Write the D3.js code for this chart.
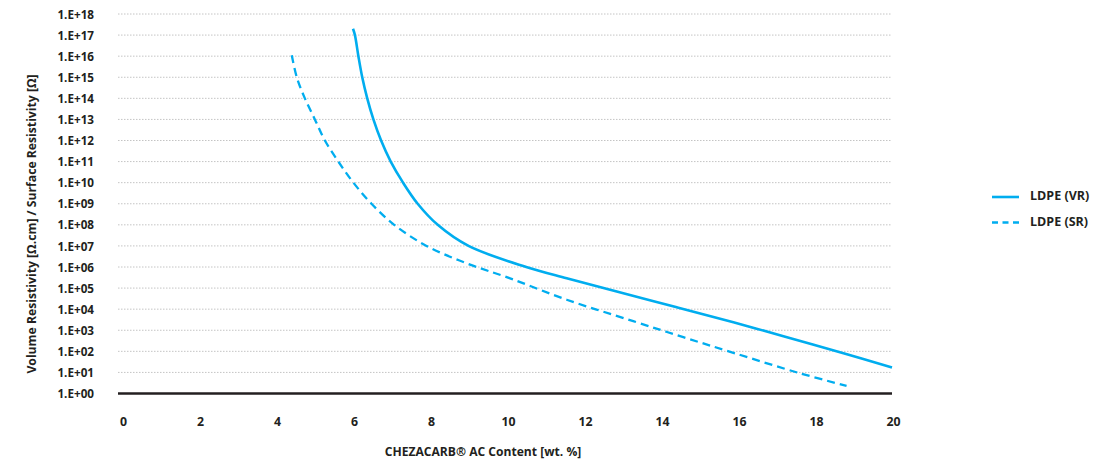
<!DOCTYPE html>
<html>
<head>
<meta charset="utf-8">
<script src="https://cdn.jsdelivr.net/npm/d3@7"></script>
<style>
  html, body { margin: 0; padding: 0; background: #fff; }
  svg { display: block; }
  text { font-family: "Open Sans", Lato, sans-serif; font-weight: 700; fill: #231f20; }
</style>
</head>
<body>
<svg id="chart" width="1113" height="464"></svg>
<script>
// ---- data ----
const xTicks = [0, 2, 4, 6, 8, 10, 12, 14, 16, 18, 20];
const yTicks = [1e0, 1e1, 1e2, 1e3, 1e4, 1e5, 1e6, 1e7, 1e8, 1e9, 1e10, 1e11, 1e12, 1e13, 1e14, 1e15, 1e16, 1e17, 1e18];
const yTickLabels = ["1.E+00","1.E+01","1.E+02","1.E+03","1.E+04","1.E+05","1.E+06","1.E+07","1.E+08","1.E+09","1.E+10","1.E+11","1.E+12","1.E+13","1.E+14","1.E+15","1.E+16","1.E+17","1.E+18"];
const seriesNames = ["LDPE (VR)", "LDPE (SR)"];
const vrContent = [6.0, 6.05, 6.14, 6.24, 6.37, 6.53, 6.73, 6.98, 7.3, 7.68, 8.2, 9.0, 10.5, 11.55, 12.85, 14.41, 15.88, 17.18, 18.74, 20];
const vrResist  = [2e17, 1e17, 1e16, 1e15, 1e14, 1e13, 1e12, 1e11, 1e10, 1e9, 1e8, 1e7, 1e6, 2.9e5, 6.8e4, 1.23e4, 2.4e3, 5.2e2, 81, 17];
const srContent = [4.41, 4.54, 4.75, 5.01, 5.27, 5.62, 6.01, 6.48, 7.07, 7.91, 8.95, 10.08, 11.55, 13.28, 14.58, 15.88, 17.61, 18.82];
const srResist  = [1.1e16, 1e15, 1e14, 1e13, 1e12, 1e11, 1e10, 1e9, 1e8, 1e7, 1.5e6, 2.9e5, 2.8e4, 2.7e3, 4.7e2, 85, 9.1, 2.3];
const xTitle = "CHEZACARB® AC Content [wt. %]";
const yTitle = "Volume Resistivity [Ω.cm] / Surface Resistivity [Ω]";

// ---- layout ----
const svg = d3.select("#chart");
const color = "#00adef";
const ink = "#231f20";
const x = d3.scaleLinear().domain([0, 20]).range([122, 892]);
const y = d3.scaleLog().domain([1, 1e18]).range([393.5, 14]);
const gridLeft = 118;

// gridlines
svg.append("g").selectAll("line")
  .data(yTicks.slice(1))
  .join("line")
  .attr("x1", gridLeft).attr("x2", x(20))
  .attr("y1", d => y(d)).attr("y2", d => y(d))
  .attr("stroke", "#c4c4c4").attr("stroke-width", 1)
  .attr("stroke-dasharray", "1.5,1.5");

// y axis labels
const yAxis = d3.axisLeft(y).tickValues(yTicks)
  .tickFormat((d, i) => yTickLabels[i]).tickSize(0).tickPadding(0);
const gy = svg.append("g").attr("transform", "translate(94,0)").call(yAxis);
gy.select(".domain").remove();
gy.selectAll("text").attr("font-size", 11.7).attr("font-family", "'Open Sans', sans-serif")
  .attr("font-weight", 700).attr("fill", ink).attr("dy", "0.35em");

// x axis labels
const xAxis = d3.axisBottom(x).tickValues(xTicks).tickFormat(d3.format("d")).tickSize(0).tickPadding(0);
const gx = svg.append("g").attr("transform", "translate(1,422)").call(xAxis);
gx.select(".domain").remove();
gx.selectAll("text").attr("font-size", 12.3).attr("font-family", "'Open Sans', sans-serif")
  .attr("font-weight", 700).attr("fill", ink).attr("dy", "0.35em");

// baseline
svg.append("line")
  .attr("x1", gridLeft).attr("x2", x(20))
  .attr("y1", y(1)).attr("y2", y(1))
  .attr("stroke", ink).attr("stroke-width", 2.5);

// lines
const line = d3.line().x(d => x(d[0])).y(d => y(d[1])).curve(d3.curveCatmullRom.alpha(0.5));
const vr = vrContent.map((c, i) => [c, vrResist[i]]);
const sr = srContent.map((c, i) => [c, srResist[i]]);

svg.append("path").datum(sr).attr("d", line)
  .attr("fill", "none").attr("stroke", color).attr("stroke-width", 2.3)
  .attr("stroke-dasharray", "8,5");
svg.append("path").datum(vr).attr("d", line)
  .attr("fill", "none").attr("stroke", color).attr("stroke-width", 2.6);

// axis titles
svg.append("text").attr("x", 483).attr("y", 453).attr("text-anchor", "middle")
  .attr("dominant-baseline", "middle").attr("font-size", 12.1).text(xTitle);
svg.append("text").attr("transform", "translate(33,224) rotate(-90)")
  .attr("text-anchor", "middle").attr("dominant-baseline", "middle")
  .attr("font-size", 12.2).text(yTitle);

// legend
const legend = svg.append("g");
const legY = [197, 222.5];
seriesNames.forEach((name, i) => {
  legend.append("line").attr("x1", 992).attr("x2", 1019)
    .attr("y1", legY[i]).attr("y2", legY[i])
    .attr("stroke", color).attr("stroke-width", 2.6)
    .attr("stroke-dasharray", i === 1 ? "6,4.5" : null);
  legend.append("text").attr("x", 1030).attr("y", legY[i])
    .attr("dominant-baseline", "middle").attr("font-size", 12.5).text(name);
});
</script>
</body>
</html>
